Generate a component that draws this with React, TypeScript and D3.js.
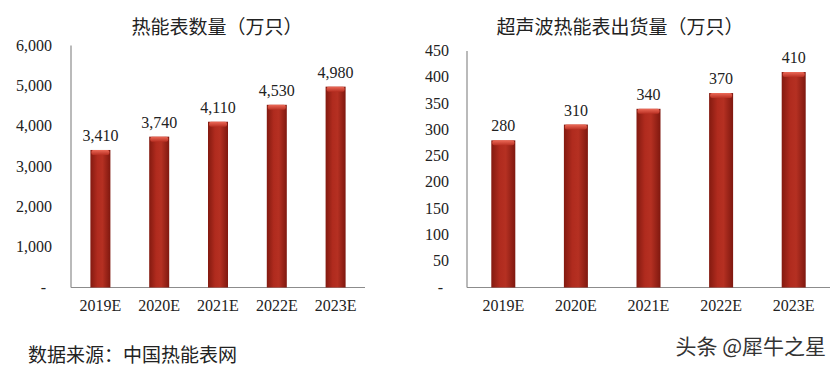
import React, { useEffect, useRef } from "react";
import * as d3 from "d3";

// data
const years = ["2019E", "2020E", "2021E", "2022E", "2023E"];
const meterCount = [3410, 3740, 4110, 4530, 4980];
const ultrasonicShipments = [280, 310, 340, 370, 410];
const meterTicks = [0, 1000, 2000, 3000, 4000, 5000, 6000];
const ultrasonicTicks = [0, 50, 100, 150, 200, 250, 300, 350, 400, 450];

const W = 837;
const H = 368;
const serif = "'Liberation Serif', 'Times New Roman', serif";
const cjk = "'Noto Sans CJK SC', sans-serif";

const App = () => {
  const ref = useRef<SVGSVGElement | null>(null);

  useEffect(() => {
    const svg = d3.select(ref.current);
    svg.selectAll("*").remove();

    const defs = svg.append("defs");
    const side = defs.append("linearGradient").attr("id", "barSide")
      .attr("x1", 0).attr("x2", 1).attr("y1", 0).attr("y2", 0);
    side.append("stop").attr("offset", "0%").attr("stop-color", "#831a10");
    side.append("stop").attr("offset", "35%").attr("stop-color", "#b02b1e");
    side.append("stop").attr("offset", "60%").attr("stop-color", "#b53022");
    side.append("stop").attr("offset", "100%").attr("stop-color", "#7f180f");
    const cap = defs.append("linearGradient").attr("id", "barCap")
      .attr("x1", 0).attr("x2", 0).attr("y1", 0).attr("y2", 1);
    cap.append("stop").attr("offset", "0%").attr("stop-color", "#ec6a58");
    cap.append("stop").attr("offset", "100%").attr("stop-color", "#b82f22");

    const drawChart = (opts: {
      values: number[];
      ticks: number[];
      max: number;
      left: number;
      right: number;
      top: number;
      title: string;
      titleX: number;
      labelEnd: number;
      barW: number;
    }) => {
      const bottom = 287.5;
      const g = svg.append("g");
      const x = d3.scaleBand().domain(years).range([opts.left, opts.right]);
      const y = d3.scaleLinear().domain([0, opts.max]).range([bottom, opts.top]);
      const fmt = d3.format(",");

      g.append("text")
        .attr("x", opts.titleX).attr("y", 34)
        .attr("text-anchor", "middle")
        .attr("font-family", cjk).attr("font-size", 19)
        .attr("fill", "#222")
        .text(opts.title);

      // axes
      g.append("line")
        .attr("x1", opts.left).attr("x2", opts.left)
        .attr("y1", y(opts.max)).attr("y2", bottom)
        .attr("stroke", "#8c8c8c").attr("stroke-width", 1.2);
      g.append("line")
        .attr("x1", opts.left).attr("x2", opts.right)
        .attr("y1", bottom).attr("y2", bottom)
        .attr("stroke", "#8c8c8c").attr("stroke-width", 1.2);

      g.selectAll(".ytick").data(opts.ticks).enter().append("text")
        .attr("x", d => (d === 0 ? opts.labelEnd - 6 : opts.labelEnd))
        .attr("y", d => y(d) + 5)
        .attr("text-anchor", "end")
        .attr("font-family", serif).attr("font-size", 16)
        .attr("fill", "#222")
        .text(d => (d === 0 ? "-" : fmt(d)));

      g.selectAll(".xtick").data(years).enter().append("text")
        .attr("x", d => (x(d) as number) + x.bandwidth() / 2)
        .attr("y", 311)
        .attr("text-anchor", "middle")
        .attr("font-family", serif).attr("font-size", 16)
        .attr("fill", "#222")
        .text(d => d);

      const bars = g.selectAll(".bar").data(opts.values).enter().append("g");
      bars.append("rect")
        .attr("x", (d, i) => (x(years[i]) as number) + x.bandwidth() / 2 - opts.barW / 2)
        .attr("y", d => y(d))
        .attr("width", opts.barW)
        .attr("height", d => bottom - y(d))
        .attr("fill", "url(#barSide)");
      bars.append("rect")
        .attr("x", (d, i) => (x(years[i]) as number) + x.bandwidth() / 2 - opts.barW / 2 + 1)
        .attr("y", d => y(d))
        .attr("width", opts.barW - 2)
        .attr("height", 5)
        .attr("rx", 2)
        .attr("fill", "url(#barCap)");

      g.selectAll(".val").data(opts.values).enter().append("text")
        .attr("x", (d, i) => (x(years[i]) as number) + x.bandwidth() / 2)
        .attr("y", d => y(d) - 9)
        .attr("text-anchor", "middle")
        .attr("font-family", serif).attr("font-size", 16)
        .attr("fill", "#222")
        .text(d => fmt(d));
    };

    drawChart({
      values: meterCount, ticks: meterTicks, max: 6000,
      left: 71, right: 365, top: 45.5,
      title: "热能表数量（万只）", titleX: 217, labelEnd: 52, barW: 20,
    });
    drawChart({
      values: ultrasonicShipments, ticks: ultrasonicTicks, max: 450,
      left: 467, right: 830, top: 51,
      title: "超声波热能表出货量（万只）", titleX: 620, labelEnd: 449, barW: 24,
    });

    svg.append("text")
      .attr("x", 28).attr("y", 362)
      .attr("font-family", cjk).attr("font-size", 19)
      .attr("fill", "#222")
      .text("数据来源：中国热能表网");
    svg.append("text")
      .attr("x", 826).attr("y", 354)
      .attr("text-anchor", "end")
      .attr("font-family", cjk).attr("font-size", 21)
      .attr("fill", "#333")
      .text("头条 @犀牛之星");
  }, []);

  return (
    <svg
      ref={ref}
      width={W}
      height={H}
      style={{ position: "absolute", left: 0, top: 0, background: "#fff" }}
    />
  );
};

export default App;
